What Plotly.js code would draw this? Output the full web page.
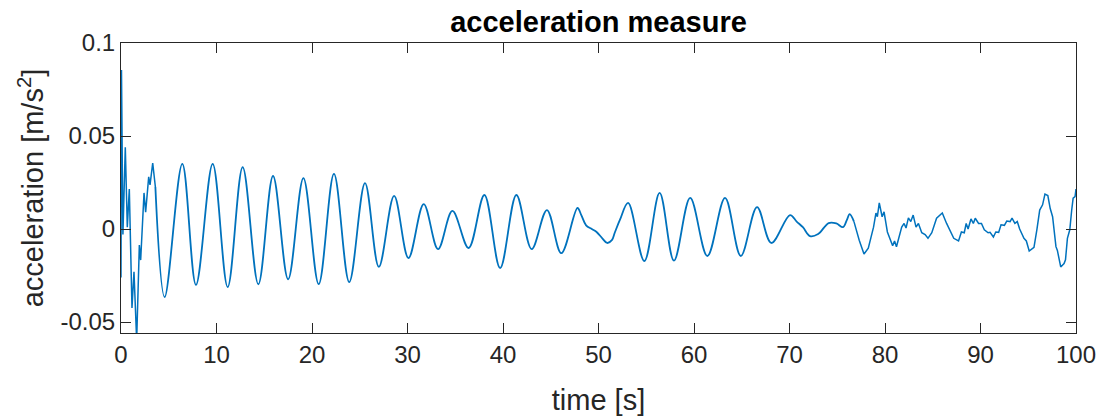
<!DOCTYPE html>
<html>
<head>
<meta charset="utf-8">
<script src="https://cdn.plot.ly/plotly-3.0.1.min.js"></script>
<style>html,body{margin:0;padding:0;background:#fff;}#chart{width:1102px;height:416px;}</style>
</head>
<body>
<div id="chart"></div>
<script>
// time [s]
const time = [
  0, 0.05, 0.2, 0.45, 0.66, 0.87, 1.15, 1.36, 1.64, 1.92, 2.06, 2.41, 2.58, 2.9, 3.04, 3.32, 3.6,
  4.57, 6.42, 7.85, 9.6, 11.17, 12.74, 14.38, 15.92, 17.5, 19.1, 20.7, 22.3, 23.9, 25.55, 27.0, 28.6,
  30.1, 31.7, 33.2, 34.7, 36.4, 38.05, 39.7, 41.4, 43.0, 44.6, 46.1, 47.8, 48.2, 48.7, 49.3, 49.8,
  50.4, 50.9, 51.4, 51.7, 52.25, 53.1, 54.8, 56.4, 57.9, 59.6, 61.4, 63.25, 64.9, 66.6, 68.1, 70.05,
  70.75, 71.4, 72.15, 73.0, 74.1, 74.9, 75.6, 76.0, 76.3, 76.75,
  77.3, 77.8, 78.25, 78.8, 79.05, 79.2, 79.4, 79.7, 79.9, 80.25, 80.8, 81.0, 81.2, 81.75, 82.0, 82.2,
  82.45, 82.7, 82.95, 83.25, 83.5, 83.85, 84.2, 84.5, 84.9, 85.4, 86.0, 86.45, 86.8, 87.2, 87.7, 88.0,
  88.3, 88.5, 88.7, 89.0, 89.25, 89.45, 89.8, 90.1, 90.4, 90.8, 91.0, 91.35, 91.6, 91.9, 92.15, 92.5,
  92.75, 93.1, 93.3, 93.6, 93.85, 94.1, 94.55, 94.8, 95.1, 95.5, 95.6, 95.9, 96.2, 96.5, 96.75, 97.05,
  97.3, 97.55, 97.9, 98.05, 98.4, 98.75, 98.9, 99.1, 99.35, 99.55, 99.7, 99.9, 100
];
// acceleration [m/s^2]
const accel = [
  -0.026, 0.0855, -0.003, 0.044, 0.001, 0.0215, -0.0425, -0.023, -0.06, -0.0086, -0.0167, 0.0194, 0.009, 0.028, 0.0237, 0.0355, 0.0226,
  -0.0366, 0.035, -0.030, 0.035, -0.0312, 0.0333, -0.0297, 0.0285, -0.027, 0.0274, -0.0296, 0.0296, -0.0285, 0.0247, -0.0204, 0.0178,
  -0.0156, 0.0134, -0.0108, 0.0097, -0.0102, 0.0183, -0.021, 0.0183, -0.0108, 0.0102, -0.013, 0.0113, 0.0075, 0.002, 0.0, -0.0016,
  -0.005, -0.0075, -0.006, -0.002, 0.005, 0.014, -0.0172, 0.0194, -0.017, 0.0167, -0.0145, 0.0167, -0.0145, 0.0118, -0.0075, 0.0075,
  0.004, 0.001, -0.0038, -0.0027, 0.0032, 0.003, 0.001, 0.0048, 0.008, 0.004,
  -0.006, -0.0134, -0.0103, 0.001, 0.0086, 0.0066, 0.014, 0.0066, 0.0092, -0.0016, -0.009, -0.0064, -0.0095, 0.001, 0.003, 0.0005,
  0.006, 0.004, 0.0075, 0.001, 0.003, -0.002, -0.003, -0.005, -0.002, 0.0058, 0.0086, 0.003, -0.001, -0.005, -0.0064, -0.0016,
  -0.002, 0.003, 0.0, 0.0054, 0.003, 0.0058, 0.003, 0.003, -0.0004, -0.002, -0.0018, -0.0043, -0.0016, -0.0018, 0.0023, 0.002,
  0.0043, 0.004, 0.0058, 0.003, 0.004, 0.0, -0.005, -0.0064, -0.0118, -0.0098, -0.0098, -0.0004, 0.0102, 0.013, 0.0188, 0.018,
  0.011, 0.0066, -0.0095, -0.0115, -0.0204, -0.0186, -0.0165, -0.005, -0.0004, 0.0102, 0.0166, 0.0174, 0.0215
];
const xTicks = [0, 10, 20, 30, 40, 50, 60, 70, 80, 90, 100];
const yTicks = [-0.05, 0, 0.05, 0.1];
const yTickText = ['-0.05', '0', '0.05', '0.1'];

// segments: sharp start (linear), smooth oscillation (spline), noisy tail (linear)
const smoothFrom = 3.6, smoothTo = 76.75;
function seg(lo, hi) {
  const xs = [], ys = [];
  for (let i = 0; i < time.length; i++) {
    if (time[i] >= lo && time[i] <= hi) { xs.push(time[i]); ys.push(accel[i]); }
  }
  return {x: xs, y: ys};
}
const color = '#0072BD';
const a = seg(-1, smoothFrom), b = seg(smoothFrom, smoothTo), c = seg(smoothTo, 101);
const traces = [
  {x: a.x, y: a.y, mode: 'lines', line: {color: color, width: 1.5}, showlegend: false, hoverinfo: 'skip'},
  {x: b.x, y: b.y, mode: 'lines', line: {color: color, width: 1.8, shape: 'spline', smoothing: 1}, showlegend: false, hoverinfo: 'skip'},
  {x: c.x, y: c.y, mode: 'lines', line: {color: color, width: 1.5}, showlegend: false, hoverinfo: 'skip'}
];
const axColor = '#262626';
const font = 'Liberation Sans, Arial, Helvetica, sans-serif';
const layout = {
  width: 1102, height: 416,
  margin: {l: 121, r: 26, t: 43, b: 83},
  paper_bgcolor: '#fff', plot_bgcolor: '#fff',
  font: {family: font, color: axColor, size: 24},
  title: {text: '<b>acceleration measure</b>', font: {family: font, size: 29, color: '#000'},
          x: 0.5, xref: 'paper', y: 1 - 22/416, yref: 'container', yanchor: 'middle'},
  xaxis: {
    range: [0, 100], tickvals: xTicks, ticktext: xTicks.map(String),
    showline: true, linecolor: axColor, linewidth: 1, mirror: 'ticks',
    ticks: 'inside', ticklen: 10, tickcolor: axColor, tickwidth: 1,
    showgrid: false, zeroline: false, tickfont: {size: 24, color: axColor},
    title: {text: 'time [s]', font: {size: 29, color: axColor}, standoff: 22}
  },
  yaxis: {
    range: [-0.0559, 0.1], tickvals: yTicks, ticktext: yTickText,
    showline: true, linecolor: axColor, linewidth: 1, mirror: 'ticks',
    ticks: 'inside', ticklen: 10, tickcolor: axColor, tickwidth: 1,
    showgrid: false, zeroline: false, tickfont: {size: 24, color: axColor},
    title: {text: 'acceleration [m/s<sup>2</sup>]', font: {size: 29, color: axColor}, standoff: 8}
  }
};
Plotly.newPlot('chart', traces, layout, {staticPlot: true, displayModeBar: false});
</script>
</body>
</html>
